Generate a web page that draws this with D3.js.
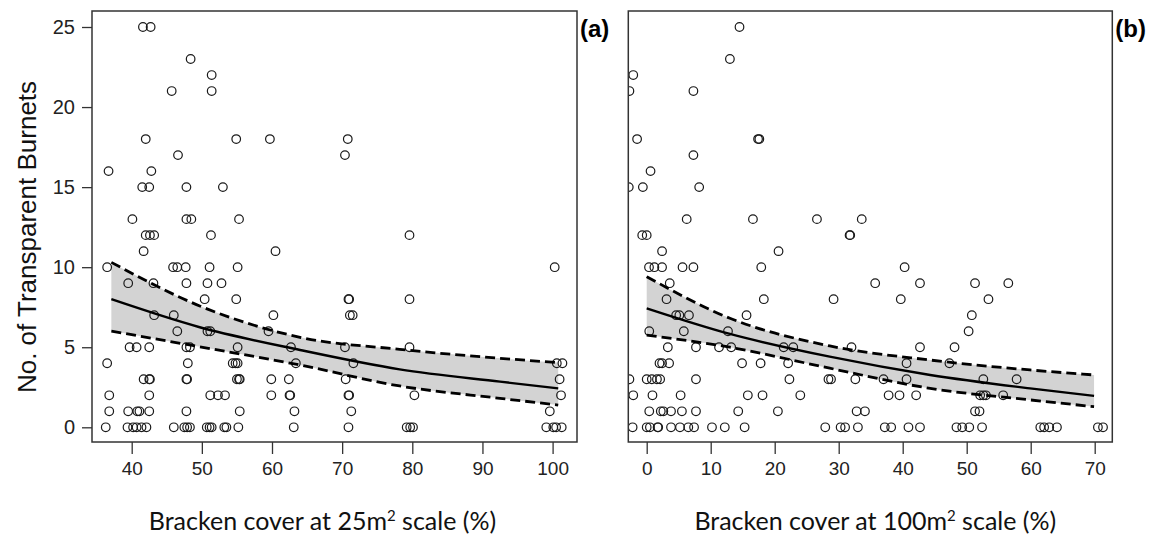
<!DOCTYPE html>
<html>
<head>
<meta charset="utf-8">
<script src="https://cdn.jsdelivr.net/npm/d3@7"></script>
<style>
  body { margin: 0; background: #fff; }
  svg { display: block; }
</style>
</head>
<body>
<div id="chart"></div>
<script>
// panel (a): bracken cover at 25 m2
const a_x = [41.6,42.7, 48.4, 51.4, 45.7,51.4,
  42.0,54.9,59.7,70.8, 46.6,70.4, 36.7,42.8, 41.5,42.5,47.8,53.0,
  40.1,47.8,48.5,55.3, 42.0,42.6,43.2,51.3,79.6, 41.7,60.5,
  36.5,45.9,46.5,47.7,51.1,55.1,100.3, 39.5,43.1,47.8,50.8,52.8,
  50.4,54.9,70.9,71.0,79.6, 43.2,46.0,60.2,71.1,71.5,
  46.5,50.8,51.2,59.5,
  39.7,40.7,42.5,47.8,48.3,55.1,62.7,70.4,79.6,
  36.5,48.0,54.4,54.8,55.1,63.4,71.6,100.6,101.4,
  41.7,42.5,42.6,47.8,47.9,55.0,55.3,55.4,59.9,62.4,70.5,101.0,
  36.8,42.5,51.2,52.3,53.3,59.9,62.5,62.6,70.9,71.0,80.3,101.2,
  36.8,39.5,40.8,41.1,42.5,47.8,55.4,63.2,71.3,99.6,
  36.3,39.4,40.2,40.7,41.4,42.1,46.0,47.5,47.9,48.3,50.7,51.1,51.4,53.2,53.5,55.2,63.1,70.9,79.2,79.7,80.1,99.1,100.1,100.5,101.3];
const a_y = [25,25, 23, 22, 21,21,
  18,18,18,18, 17,17, 16,16, 15,15,15,15,
  13,13,13,13, 12,12,12,12,12, 11,11,
  10,10,10,10,10,10,10, 9,9,9,9,9,
  8,8,8,8,8, 7,7,7,7,7,
  6,6,6,6,
  5,5,5,5,5,5,5,5,5,
  4,4,4,4,4,4,4,4,4,
  3,3,3,3,3,3,3,3,3,3,3,3,
  2,2,2,2,2,2,2,2,2,2,2,2,
  1,1,1,1,1,1,1,1,1,1,
  0,0,0,0,0,0,0,0,0,0,0,0,0,0,0,0,0,0,0,0,0,0,0,0,0];

// fitted curve and 95% band, panel (a)
const a_fitX = [37.1, 49.7, 64.0, 78.2, 92.5, 100.8];
const a_fit = [8.0, 6.25, 4.83, 3.62, 2.85, 2.43];
const a_upper = [10.3, 7.58, 5.62, 4.87, 4.31, 4.04];
const a_lower = [6.01, 5.03, 3.89, 2.58, 1.81, 1.39];

// panel (b): bracken cover at 100 m2
const b_x = [14.5, 13.0, -2.1, -2.7,7.3,
  -1.5,17.4,17.6, 7.3, 0.6, -2.8,-0.6,8.2,
  6.25,16.6,26.6,33.6, -0.7,0.0,31.7,31.8, 2.4,20.6,
  0.36,1.2,2.4,5.6,7.3,17.9,40.3, 3.6,35.7,42.7,51.3,56.5,
  3.1,18.3,29.2,39.7,53.4, 4.6,5.1,6.6,15.6,50.8,
  0.4,5.8,12.7,50.3,
  3.3,7.7,11.3,13.2,21.4,22.9,32.0,42.7,48.1,
  2.0,2.4,3.5,14.9,17.8,22.1,40.6,47.3,
  -2.7,0.0,0.8,1.6,2.1,7.7,22.3,28.4,28.8,32.6,37.0,40.6,52.6,57.8,
  -2.1,0.9,5.3,15.8,18.1,24.0,37.8,39.5,42.1,52.1,52.6,53.0,55.7,
  0.4,2.2,2.6,3.8,5.5,7.7,14.3,20.5,32.8,34.1,51.3,52.0,
  -2.2,0.0,0.5,1.7,1.8,3.8,5.2,6.5,7.4,10.2,12.2,15.3,27.9,30.3,31.0,33.0,37.2,38.2,40.9,42.7,48.4,49.3,50.4,52.4,61.5,62.1,62.9,64.1,70.5,71.3];
const b_y = [25, 23, 22, 21,21,
  18,18,18, 17, 16, 15,15,15,
  13,13,13,13, 12,12,12,12, 11,11,
  10,10,10,10,10,10,10, 9,9,9,9,9,
  8,8,8,8,8, 7,7,7,7,7,
  6,6,6,6,
  5,5,5,5,5,5,5,5,5,
  4,4,4,4,4,4,4,4,
  3,3,3,3,3,3,3,3,3,3,3,3,3,3,
  2,2,2,2,2,2,2,2,2,2,2,2,2,
  1,1,1,1,1,1,1,1,1,1,1,1,
  0,0,0,0,0,0,0,0,0,0,0,0,0,0,0,0,0,0,0,0,0,0,0,0,0,0,0,0,0,0];

const b_fitX = [0, 13.0, 28.6, 44.3, 59.9, 69.9];
const b_fit = [7.43, 5.83, 4.41, 3.27, 2.43, 1.96];
const b_upper = [9.41, 6.81, 5.08, 4.20, 3.58, 3.27];
const b_lower = [5.76, 5.0, 3.69, 2.43, 1.71, 1.29];

const a_ticks = [40, 50, 60, 70, 80, 90, 100];
const b_ticks = [0, 10, 20, 30, 40, 50, 60, 70];
const y_ticks = [0, 5, 10, 15, 20, 25];

const W = 1151, H = 539;
const plotTop = 11, plotBottom = 442;

const svg = d3.select("#chart").append("svg")
    .attr("width", W)
    .attr("height", H);

const y = d3.scaleLinear().domain([0, 25]).range([427.3, 27]);

function panel(id, left, right, xDomain, xs, ys, fitX, fit, upper, lower, ticks, letter, title) {
    const x = d3.scaleLinear().domain(xDomain.values).range(xDomain.px);
    const g = svg.append("g");

    g.append("clipPath").attr("id", "clip" + id)
        .append("rect")
        .attr("x", left).attr("y", plotTop)
        .attr("width", right - left).attr("height", plotBottom - plotTop);

    const plot = g.append("g").attr("clip-path", `url(#clip${id})`);

    const band = fitX.map((v, i) => ({x: v, lo: lower[i], hi: upper[i]}));
    plot.append("path")
        .datum(band)
        .attr("fill", "#d3d3d3")
        .attr("d", d3.area().curve(d3.curveMonotoneX)
            .x(d => x(d.x)).y0(d => y(d.lo)).y1(d => y(d.hi)));

    plot.selectAll(".pt")
        .data(xs.map((v, i) => [v, ys[i]]))
        .enter().append("circle")
        .attr("class", "pt")
        .attr("cx", d => x(d[0]))
        .attr("cy", d => y(d[1]))
        .attr("r", 4.3)
        .attr("fill", "none")
        .attr("stroke", "#1a1a1a")
        .attr("stroke-width", 1.2);

    const line = d3.line().curve(d3.curveMonotoneX).x(d => x(d[0])).y(d => y(d[1]));
    plot.append("path")
        .datum(fitX.map((v, i) => [v, fit[i]]))
        .attr("fill", "none").attr("stroke", "#000").attr("stroke-width", 2.4)
        .attr("d", line);
    [upper, lower].forEach(arr => {
        plot.append("path")
            .datum(fitX.map((v, i) => [v, arr[i]]))
            .attr("fill", "none").attr("stroke", "#000").attr("stroke-width", 2.8)
            .attr("stroke-dasharray", "10,5")
            .attr("d", line);
    });

    g.append("rect")
        .attr("x", left).attr("y", plotTop)
        .attr("width", right - left).attr("height", plotBottom - plotTop)
        .attr("fill", "none").attr("stroke", "#333").attr("stroke-width", 1.5);

    const xAxis = g.append("g")
        .attr("transform", `translate(0,${plotBottom})`)
        .call(d3.axisBottom(x).tickValues(ticks).tickSize(12).tickPadding(8).tickFormat(d3.format("d")));
    xAxis.select(".domain").remove();
    xAxis.selectAll(".tick line").attr("stroke", "#333").attr("stroke-width", 1.3);
    xAxis.selectAll("text")
        .attr("font-family", "'Liberation Sans', Arial, sans-serif")
        .attr("font-size", 19)
        .attr("fill", "#222");

    g.append("text")
        .attr("x", right + 3).attr("y", 37)
        .attr("font-family", "'Liberation Sans', Arial, sans-serif")
        .attr("font-weight", "bold")
        .attr("font-size", 24)
        .text(letter);

    const t = g.append("text")
        .attr("x", (left + right) / 2 + title.dx).attr("y", 530)
        .attr("text-anchor", "middle")
        .attr("font-family", "Lato, 'Open Sans', sans-serif")
        .attr("font-size", 25)
        .attr("fill", "#111");
    t.append("tspan").text(title.pre);
    t.append("tspan").attr("font-size", 15).attr("dy", -9).text("2");
    t.append("tspan").attr("dy", 9).text(" " + title.post);

    return x;
}

panel("a", 92, 577, {values: [40, 100], px: [131.7, 552.6]}, a_x, a_y,
    a_fitX, a_fit, a_upper, a_lower, a_ticks, "(a)",
    {pre: "Bracken cover at 25m", post: "scale (%)", dx: -12});

panel("b", 628.3, 1112.3, {values: [0, 70], px: [646.7, 1094.7]}, b_x, b_y,
    b_fitX, b_fit, b_upper, b_lower, b_ticks, "(b)",
    {pre: "Bracken cover at 100m", post: "scale (%)", dx: 5});

// y axis (panel a only)
const yAxis = svg.append("g")
    .attr("transform", "translate(92,0)")
    .call(d3.axisLeft(y).tickValues(y_ticks).tickSize(10).tickPadding(7));
yAxis.select(".domain").remove();
yAxis.selectAll(".tick line").attr("stroke", "#333").attr("stroke-width", 1.3);
yAxis.selectAll("text")
    .attr("font-family", "'Liberation Sans', Arial, sans-serif")
    .attr("font-size", 20)
    .attr("fill", "#222");

svg.append("text")
    .attr("transform", "translate(36,237) rotate(-90)")
    .attr("text-anchor", "middle")
    .attr("font-family", "'Liberation Sans', Arial, sans-serif")
    .attr("font-size", 26)
    .attr("fill", "#111")
    .text("No. of Transparent Burnets");
</script>
</body>
</html>
